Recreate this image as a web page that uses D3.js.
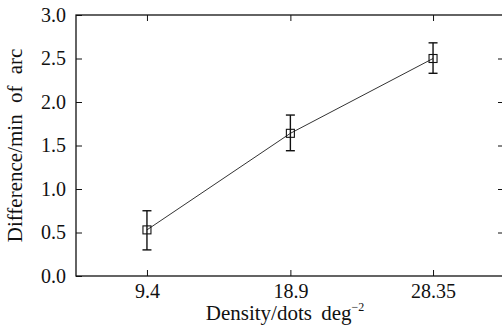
<!DOCTYPE html>
<html>
<head>
<meta charset="utf-8">
<script src="https://cdn.jsdelivr.net/npm/d3@7"></script>
<style>
  body { margin: 0; background: #fff; }
  svg text { font-family: "Liberation Serif", "DejaVu Serif", serif; fill: #111; }
</style>
</head>
<body>
<svg width="502" height="329"></svg>
<script>
const density = [9.4, 18.9, 28.35];
const difference = [0.53, 1.64, 2.50];
const errLow = [0.30, 1.44, 2.33];
const errHigh = [0.75, 1.85, 2.68];
const yTicks = [0, 0.5, 1, 1.5, 2, 2.5, 3];

const svg = d3.select('svg');

const margin = { top: 15, right: -2, bottom: 53, left: 76 };
const width = +svg.attr('width');
const height = +svg.attr('height');
const innerW = width - margin.left - margin.right;
const innerH = height - margin.top - margin.bottom;

const x = d3.scaleLinear().domain([4.7, 33.05]).range([0, innerW]);
const y = d3.scaleLinear().domain([0, 3]).range([innerH, 0]);

const g = svg.append('g')
  .attr('transform', `translate(${margin.left},${margin.top})`);

const styleAxis = sel => {
  sel.attr('font-family', null).attr('font-size', 20);
  sel.select('.domain').remove();
  sel.selectAll('.tick line').attr('stroke', '#111').attr('stroke-width', 1);
  sel.selectAll('.tick text').style('font-size', '20px');
};

// bottom axis, ticks pointing inward
g.append('g')
  .attr('transform', `translate(0,${innerH})`)
  .call(d3.axisBottom(x).tickValues(density).tickFormat(d => d).tickSizeInner(-6).tickPadding(8))
  .call(styleAxis);

// top axis ticks
g.append('g')
  .call(d3.axisTop(x).tickValues(density).tickFormat('').tickSizeInner(-6))
  .call(styleAxis);

// left axis
g.append('g')
  .call(d3.axisLeft(y).tickValues(yTicks).tickFormat(d3.format('.1f')).tickSizeInner(-6).tickPadding(10))
  .call(styleAxis);

// right axis ticks
g.append('g')
  .attr('transform', `translate(${innerW},0)`)
  .call(d3.axisRight(y).tickValues(yTicks.slice(1, -1)).tickFormat('').tickSizeInner(-6))
  .call(styleAxis);

// frame
g.append('rect')
  .attr('width', innerW)
  .attr('height', innerH)
  .attr('fill', 'none')
  .attr('stroke', '#111')
  .attr('stroke-width', 1.3);

const pts = density.map((d, i) => ({ x: d, y: difference[i], lo: errLow[i], hi: errHigh[i] }));

// connecting line
g.append('path')
  .datum(pts)
  .attr('fill', 'none')
  .attr('stroke', '#333')
  .attr('stroke-width', 1)
  .attr('d', d3.line().x(d => x(d.x)).y(d => y(d.y)));

// error bars
const eb = g.selectAll('.err').data(pts).enter().append('g').attr('class', 'err')
  .attr('stroke', '#111').attr('stroke-width', 1.4);
eb.append('line')
  .attr('x1', d => x(d.x)).attr('x2', d => x(d.x))
  .attr('y1', d => y(d.lo)).attr('y2', d => y(d.hi));
eb.append('line')
  .attr('x1', d => x(d.x) - 4.5).attr('x2', d => x(d.x) + 4.5)
  .attr('y1', d => y(d.hi)).attr('y2', d => y(d.hi));
eb.append('line')
  .attr('x1', d => x(d.x) - 4.5).attr('x2', d => x(d.x) + 4.5)
  .attr('y1', d => y(d.lo)).attr('y2', d => y(d.lo));

// square markers
g.selectAll('.mk').data(pts).enter().append('rect')
  .attr('class', 'mk')
  .attr('x', d => x(d.x) - 4)
  .attr('y', d => y(d.y) - 4)
  .attr('width', 8)
  .attr('height', 8)
  .attr('fill', 'none')
  .attr('stroke', '#111')
  .attr('stroke-width', 1.1);

// axis labels
const xl = svg.append('text')
  .attr('x', 285)
  .attr('y', 320)
  .attr('text-anchor', 'middle')
  .style('font-size', '21px')
  .style('word-spacing', '4px')
  .text('Density/dots deg');
xl.append('tspan')
  .attr('dy', -9)
  .style('font-size', '12px')
  .text('\u22122');

svg.append('text')
  .attr('transform', `translate(22,${margin.top + innerH / 2}) rotate(-90)`)
  .attr('text-anchor', 'middle')
  .style('font-size', '21px')
  .style('word-spacing', '6px')
  .text('Difference/min of arc');
</script>
</body>
</html>
